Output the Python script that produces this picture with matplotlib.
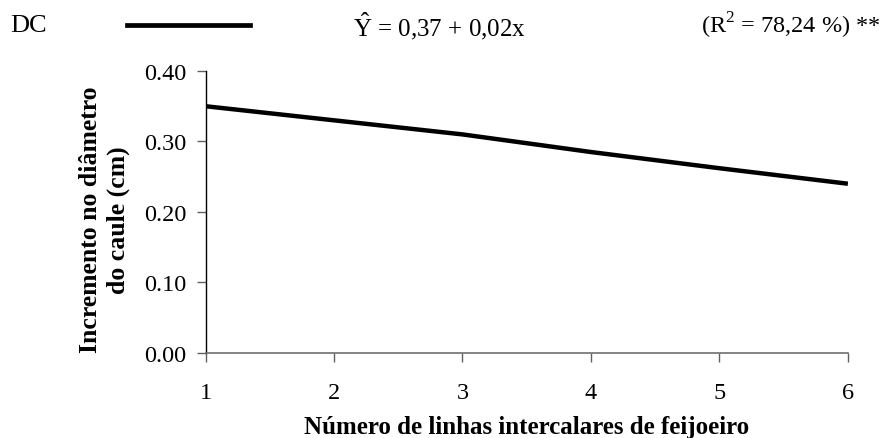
import matplotlib
matplotlib.use('Agg')
import matplotlib.pyplot as plt
import numpy as np

plt.rcParams['font.family'] = ['Liberation Serif', 'DejaVu Serif']
plt.rcParams['mathtext.fontset'] = 'custom'
plt.rcParams['mathtext.rm'] = 'Liberation Serif'

# dados
linhas = [1, 2, 3, 4, 5, 6]
diametro = [0.350, 0.330, 0.310, 0.285, 0.262, 0.240]
y_ticks = [0.00, 0.10, 0.20, 0.30, 0.40]
x_ticks = [1, 2, 3, 4, 5, 6]

fig = plt.figure(figsize=(8.86, 4.39), dpi=100)
ax = fig.add_axes([0.232, 0.194, 0.725, 0.642])

ax.plot(linhas, diametro, color='black', linewidth=3.2, solid_capstyle='butt')

ax.set_xlim(1, 6)
ax.set_ylim(0, 0.40)
ax.set_xticks(x_ticks)
ax.set_yticks(y_ticks)
ax.set_yticklabels([f'{v:.2f}' for v in y_ticks])

for s in ['top', 'right']:
    ax.spines[s].set_visible(False)
ax.spines['left'].set_color('black')
ax.spines['bottom'].set_color('#707070')
ax.spines['left'].set_linewidth(1.0)
ax.spines['bottom'].set_linewidth(1.2)
ax.tick_params(axis='both', direction='out', length=6.5, width=1.0,
               colors='#606060', labelcolor='black', labelsize=17.5)
ax.tick_params(axis='y', pad=7.5)
# rótulos do eixo x alinhados pela linha de base
ax.tick_params(axis='x', pad=26)
for lb in ax.get_xticklabels():
    lb.set_va('baseline')

ax.set_xlabel('Número de linhas intercalares de feijoeiro', fontsize=18,
              fontweight='bold', va='baseline')
ax.xaxis.set_label_coords(0.5, -0.284)
ax.set_ylabel('Incremento no diâmetro\ndo caule (cm)', fontsize=18.5,
              fontweight='bold', linespacing=1.25)
ax.yaxis.set_label_coords(-0.118, 0.475)

# cabeçalho com a equação
fig.text(0.011, 0.94, 'DC', fontsize=19, va='center', ha='left')
fig.add_artist(plt.Line2D([0.143, 0.282], [0.94, 0.94], color='black',
                          linewidth=3.4, transform=fig.transFigure))
fig.text(0.398, 0.94, r'$\hat{\mathrm{Y}}$ = 0,37 + 0,02x', fontsize=18,
         va='center', ha='left')
fig.text(0.791, 0.94, r'(R$^2$ = 78,24 %) **', fontsize=17.5, va='center',
         ha='left')

fig.savefig('out.png', dpi=100)
